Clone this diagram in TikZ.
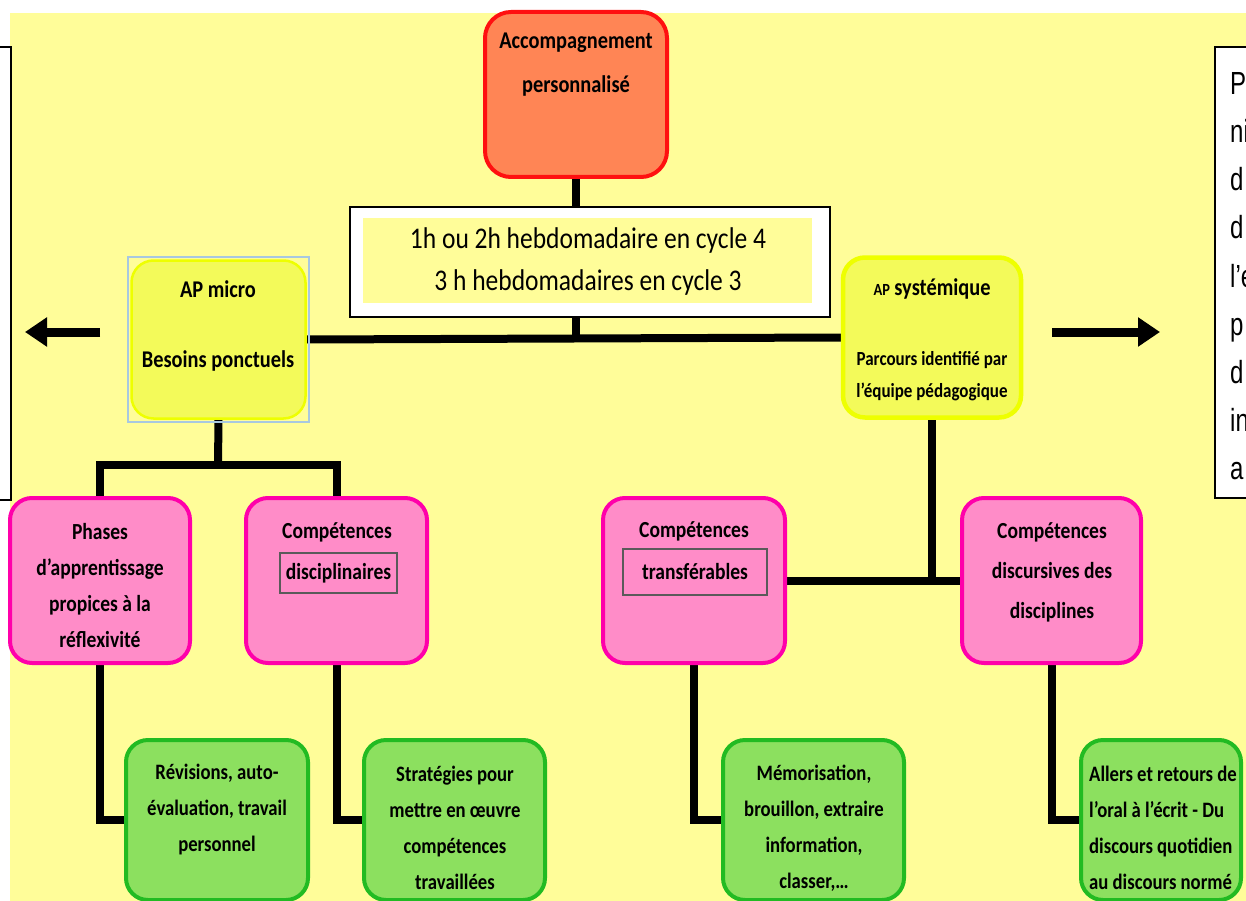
\documentclass[tikz,border=0pt]{standalone}
\usepackage{fontspec}
\setmainfont{Carlito}[FakeStretch=0.85]
\newfontfamily\rightfont{Liberation Sans}[FakeStretch=0.75]
\usetikzlibrary{arrows.meta,backgrounds}
\definecolor{bgyellow}{HTML}{FFFD99}
\definecolor{coralF}{HTML}{FF8555}
\definecolor{redB}{HTML}{FF1010}
\definecolor{ylwF}{HTML}{F3FA5A}
\definecolor{ylwB}{HTML}{EEFF00}
\definecolor{pinkF}{HTML}{FF8CC8}
\definecolor{pinkB}{HTML}{FF00AA}
\definecolor{greenF}{HTML}{8CE05F}
\definecolor{greenB}{HTML}{22BB22}
\definecolor{frameblue}{HTML}{A8C8E0}
\definecolor{framegrey}{HTML}{5A5A5A}
\begin{document}
\begin{tikzpicture}[x=1pt,y=-1pt,
  box/.style={rectangle, rounded corners=22pt, line width=4pt, inner sep=0pt},
  pinkbox/.style={box, draw=pinkB, fill=pinkF, minimum height=165pt},
  greenbox/.style={box, draw=greenB, fill=greenF, minimum height=160pt},
  ylwbox/.style={box, draw=ylwB, fill=ylwF},
  txt/.style={font=\bfseries\fontsize{23}{36}\selectfont, align=center, inner sep=0pt},
  gtxt/.style={font=\bfseries\fontsize{22}{36}\selectfont, align=center, inner sep=0pt},
  gframe/.style={draw=framegrey, line width=2.5pt, inner sep=0pt},
  conn/.style={line width=8pt, black},
  bigarrow/.style={line width=9pt, -{Triangle[length=22pt,width=28pt]}},
  rtxt/.style={font=\rightfont\fontsize{32}{40}\selectfont, inner sep=0pt}
]
\useasboundingbox (0,0) rectangle (1246,901);

% top node
\node[box, rounded corners=26pt, draw=redB, fill=coralF, minimum width=182pt, minimum height=165pt] (acc) at (576,94.5) {};
\node[txt, font=\bfseries\fontsize{24}{44}\selectfont] (acctxt) at (576,65) {Accompagnement\\personnalisé};

% hours box
\node[rectangle, draw=black, line width=2.5pt, fill=white, minimum width=480pt, minimum height=110pt, inner sep=0pt] (hbox) at (590,262) {};
\node[rectangle, fill=bgyellow, minimum width=449pt, minimum height=85pt, inner sep=0pt] (hinner) at (587.5,260.5) {};
\node[align=center, inner sep=0pt, font=\fontsize{30}{42}\selectfont] (htxt) at (588,262) {1h ou 2h hebdomadaire en cycle 4\\3 h hebdomadaires en cycle 3};

% AP micro
\node[rectangle, draw=frameblue, line width=2pt, minimum width=181pt, minimum height=165pt, inner sep=0pt] (apframe) at (218.5,339.5) {};
\node[ylwbox, line width=2.5pt, minimum width=174pt, minimum height=158pt] (apmicro) at (218.5,339.5) {};
\node[txt, font=\bfseries\fontsize{24}{30}\selectfont] (apm1) at (218,289) {AP micro};
\node[txt, font=\bfseries\fontsize{24}{30}\selectfont] (apm2) at (218,361) {Besoins ponctuels};

% AP systemique
\node[ylwbox, line width=4.5pt, minimum width=178pt, minimum height=160pt] (apsys) at (932,337.5) {};
\node[txt] (aps1) at (932,289) {{\fontsize{17}{20}\selectfont AP} {\fontsize{24}{30}\selectfont systémique}};
\node[txt, font=\bfseries\fontsize{20}{32}\selectfont] (aps2) at (932,376) {Parcours identifié par\\l’équipe pédagogique};

% pink boxes
\node[pinkbox, minimum width=180pt] (phases) at (100,580.5) {};
\node[txt] (phtxt) at (100,586) {Phases\\d’apprentissage\\propices à la\\réflexivité};

\node[pinkbox, minimum width=181pt] (compdis) at (336.5,580.5) {};
\node[txt] (cd1) at (337,532) {Compétences};
\node[txt, gframe, minimum width=117pt, minimum height=40pt] (cd2) at (338.5,573) {disciplinaires};

\node[pinkbox, minimum width=182pt] (transf) at (694,580.5) {};
\node[txt] (tr1) at (694,531) {Compétences};
\node[txt, gframe, minimum width=144pt, minimum height=46pt] (tr2) at (695,572) {transférables};

\node[pinkbox, minimum width=179pt] (discur) at (1051.5,580.5) {};
\node[txt, font=\bfseries\fontsize{23}{40}\selectfont] (dstxt) at (1052,572) {Compétences\\discursives des\\disciplines};

% green boxes
\node[greenbox, minimum width=182pt] (rev) at (217,820) {};
\node[gtxt] (revtxt) at (217,810) {Révisions, auto-\\évaluation, travail\\personnel};

\node[greenbox, minimum width=181pt] (strat) at (454.5,820) {};
\node[gtxt] (strtxt) at (455,828) {Stratégies pour\\mettre en œuvre\\compétences\\travaillées};

\node[greenbox, minimum width=181pt] (memo) at (813.5,820) {};
\node[gtxt] (memtxt) at (814,828) {Mémorisation,\\brouillon, extraire\\information,\\classer,…};

\node[greenbox, minimum width=160pt] (allers) at (1161,820) {};
\node[gtxt, align=left] (alltxt) at (1163,828) {Allers et retours de\\l’oral à l’écrit - Du\\discours quotidien\\au discours normé};

% side boxes
\node[rectangle, draw=black, line width=2pt, fill=white, minimum width=30pt, minimum height=453pt, inner sep=0pt] (leftbox) at (-4,273.5) {};
\node[rectangle, draw=black, line width=2pt, fill=white, minimum width=40pt, minimum height=451pt, inner sep=0pt] (rightbox) at (1235,272.5) {};
\begin{scope}
  \clip (1216,48) rectangle (1246,497);
  \foreach \t [count=\i] in {P,ni,d,d,l’e,p,d,in,a}
    \node[rtxt, anchor=base west] (r\i) at (1230,47+48*\i) {\t};
\end{scope}

% arrows
\coordinate (la1) at (100,332);
\coordinate (la2) at (25,332);
\coordinate (ra1) at (1052,332);
\coordinate (ra2) at (1160,332);
\draw[bigarrow] (la1) -- (la2);
\draw[bigarrow] (ra1) -- (ra2);

% connectors and background
\begin{scope}[on background layer]
  \fill[white] (0,0) rectangle (1246,901);
  \fill[bgyellow] (10,13) rectangle (1246,901);
  \coordinate (j1) at (218,465);
  \draw[conn] (acc.south) -- (acc.south |- hbox.north);
  \draw[conn] (apmicro.east) -- (apsys.west);
  \draw[conn] (acc.south |- hbox.south) -- (acc.south |- apmicro.east);
  \draw[conn] (apmicro.south) -- (j1);
  \draw[conn] (phases.north) |- (j1) -| (compdis.north);
  \draw[conn] (apsys.south) -- (apsys.south |- transf.east);
  \draw[conn] (transf.east) -- (discur.west);
  \draw[conn] (phases.south) |- (rev.west);
  \draw[conn] (compdis.south) |- (strat.west);
  \draw[conn] (transf.south) |- (memo.west);
  \draw[conn] (discur.south) |- (allers.west);
\end{scope}
\end{tikzpicture}
\end{document}
